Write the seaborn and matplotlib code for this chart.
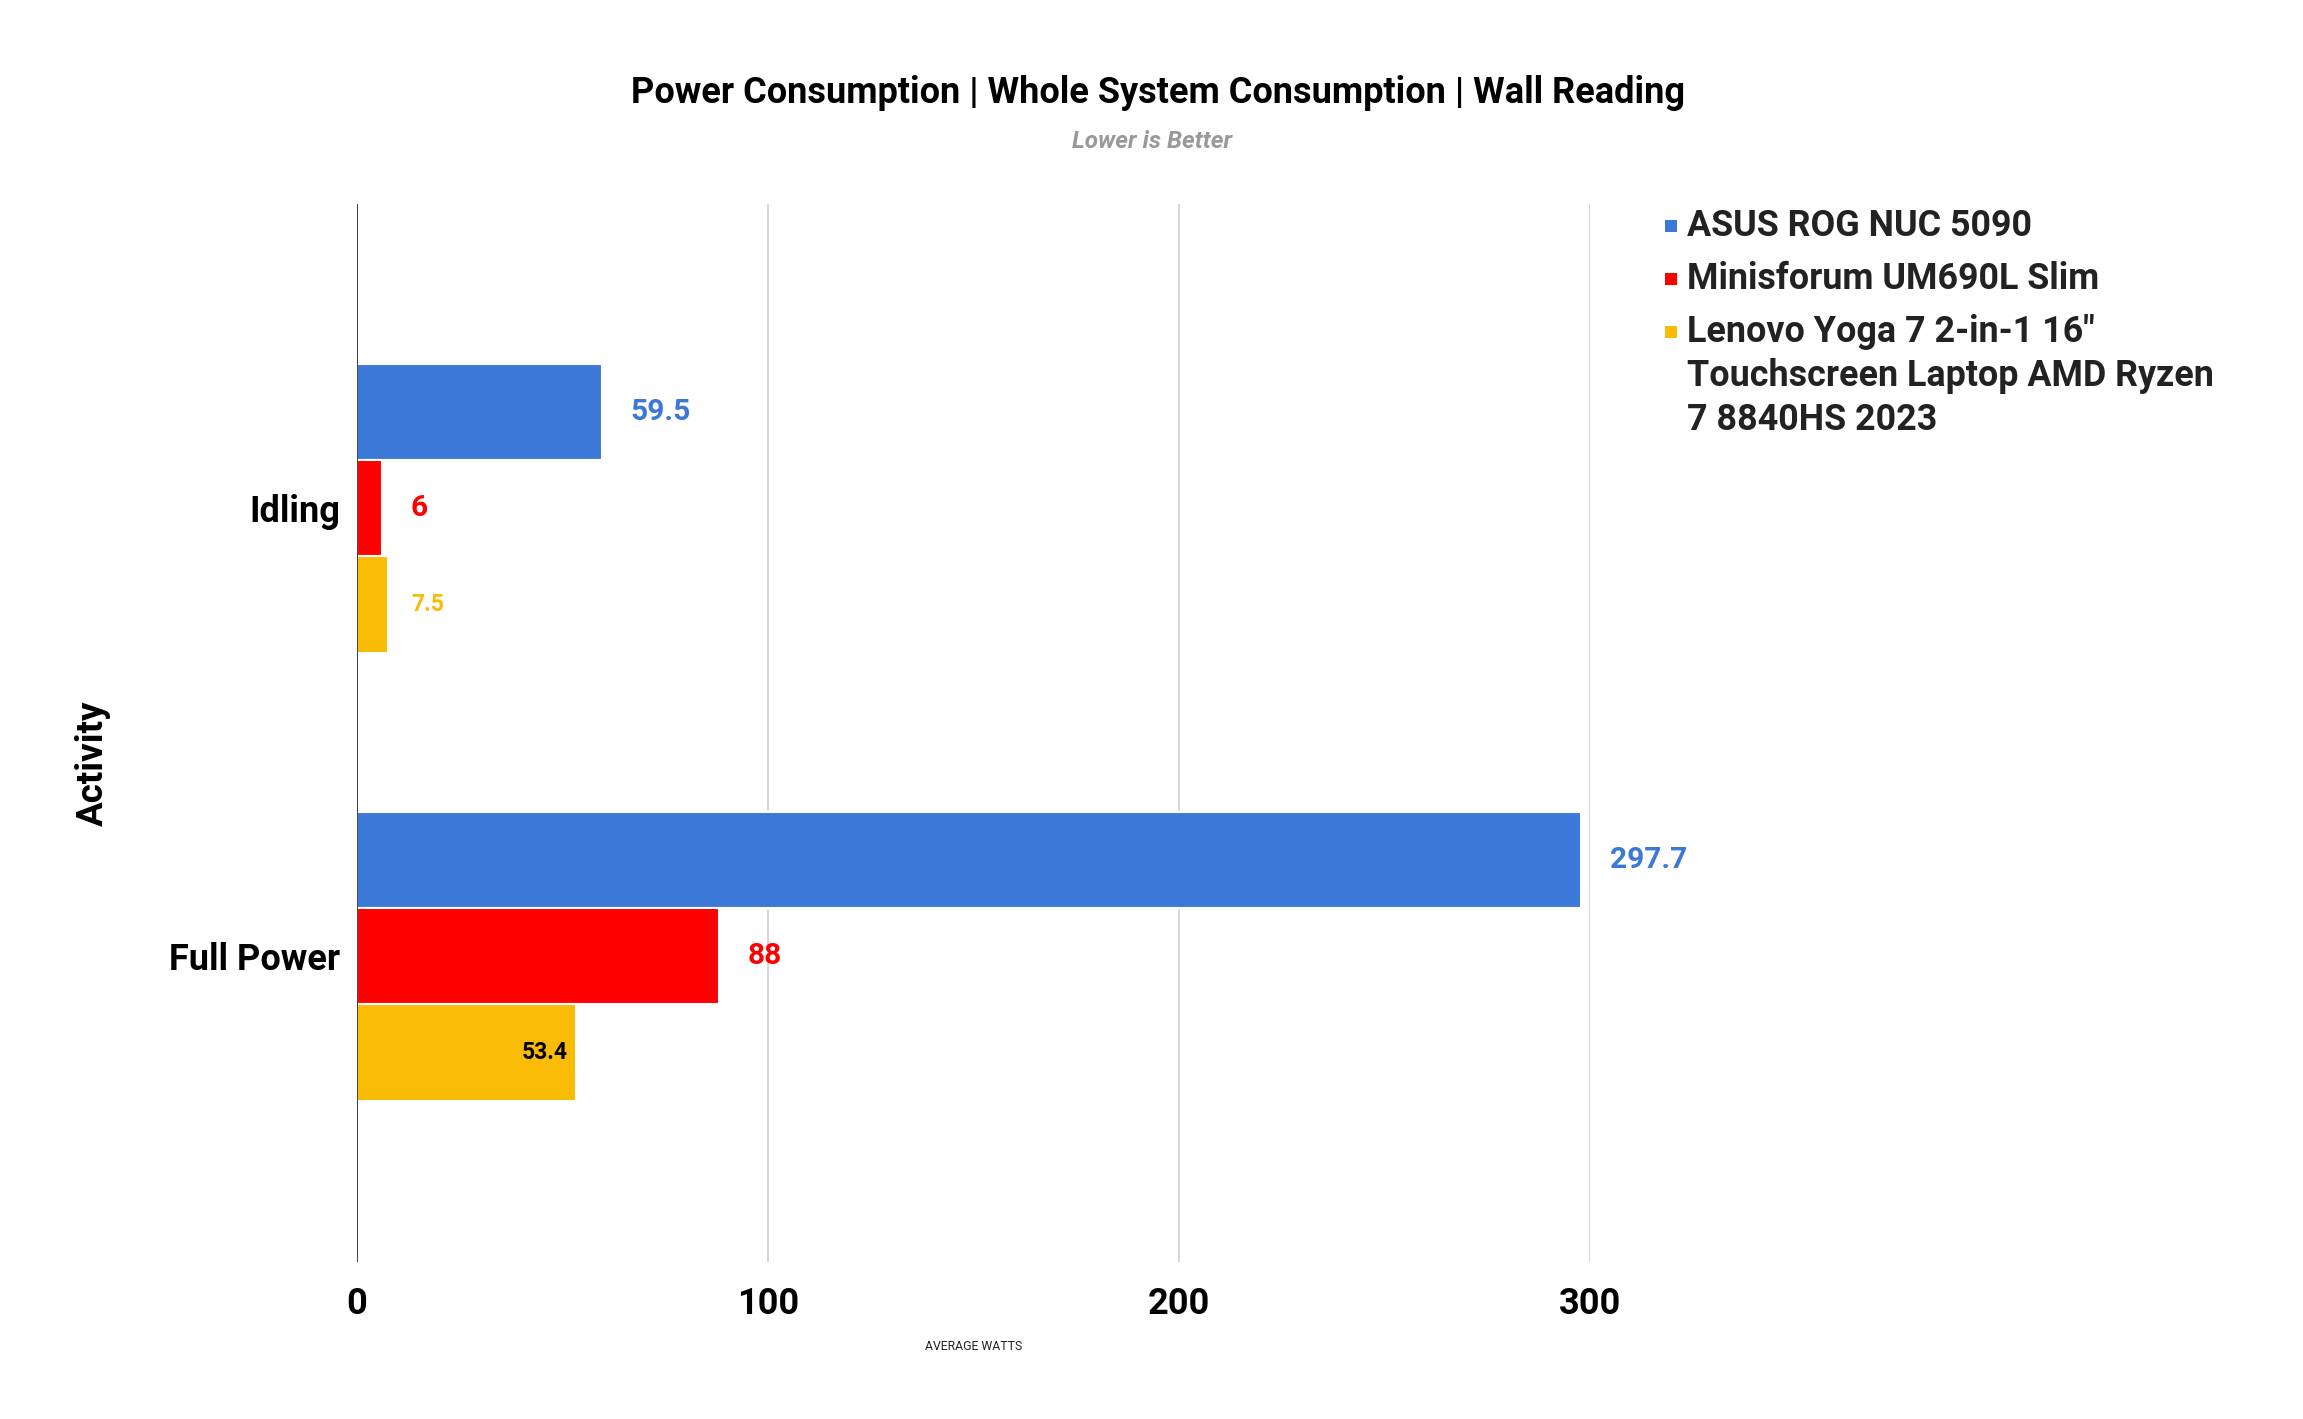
import matplotlib
matplotlib.use("Agg")
import matplotlib.pyplot as plt
import seaborn as sns
import pandas as pd
from matplotlib.patches import Rectangle

# ---------------- data ----------------
activities = ["Idling", "Full Power"]
systems = ["ASUS ROG NUC 5090", "Minisforum UM690L Slim",
           'Lenovo Yoga 7 2-in-1 16" Touchscreen Laptop AMD Ryzen 7 8840HS 2023']
legend_lines = [["ASUS ROG NUC 5090"], ["Minisforum UM690L Slim"],
                ['Lenovo Yoga 7 2-in-1 16"', "Touchscreen Laptop AMD Ryzen", "7 8840HS 2023"]]
asus_watts = [59.5, 297.7]
minis_watts = [6, 88]
lenovo_watts = [7.5, 53.4]
x_ticks = [0, 100, 200, 300]

title = "Power Consumption | Whole System Consumption | Wall Reading"
subtitle = "Lower is Better"
x_label = "AVERAGE WATTS"
y_label = "Activity"

# ---------------- style ----------------
colors = ["#3c78d8", "#ff0000", "#f9bb03"]
label_colors = [["#3c78d8", "#3c78d8"], ["#ff0000", "#ff0000"], ["#f9bb03", "#000000"]]
label_sizes = [[21.5, 21.5], [21.5, 21.5], [16.5, 16.5]]
label_inside = [[False, False], [False, False], [False, True]]
label_offset = [[21, 21], [21, 21], [17, -6]]

rows = []
for sys_name, vals in zip(systems, [asus_watts, minis_watts, lenovo_watts]):
    for act, v in zip(activities, vals):
        rows.append({"Activity": act, "System": sys_name, "Watts": v})
df = pd.DataFrame(rows)

sns.set_theme(style="white")
plt.rcParams["font.family"] = ["Roboto", "DejaVu Sans"]

W, H = 2303, 1419
fig = plt.figure(figsize=(W / 100, H / 100), dpi=100)
ax_l, ax_r, ax_t, ax_b = 357, 1590, 204, 1262
ax = fig.add_axes([ax_l / W, 1 - ax_b / H, (ax_r - ax_l) / W, (ax_b - ax_t) / H])

sns.barplot(data=df, y="Activity", x="Watts", hue="System", order=activities,
            hue_order=systems, palette=colors, width=0.645, orient="h", ax=ax,
            legend=False, edgecolor="white", linewidth=1.5, saturation=1)

ax.set_xlim(0, 300)
ax.set_ylim(1.683, -0.679)
for s in ax.spines.values():
    s.set_visible(False)
ax.set_axisbelow(True)
ax.grid(axis="x", color="#cccccc", lw=1.1)
ax.grid(axis="y", visible=False)
ax.axvline(0, color="#333333", lw=1.3, zorder=3)

ax.set_xticks(x_ticks)
ax.set_xticklabels([str(t) for t in x_ticks], fontsize=26, fontweight="bold", color="#000000")
ax.tick_params(axis="x", length=0, pad=17)
ax.tick_params(axis="y", length=0, pad=12)
for lbl in ax.get_yticklabels():
    lbl.set_fontsize(26)
    lbl.set_fontweight("bold")
    lbl.set_color("#000000")
ax.set_xlabel("")
ax.set_ylabel("")

# value labels
for si, cont in enumerate(ax.containers):
    for ci, bar in enumerate(cont):
        v = bar.get_width()
        yc = bar.get_y() + bar.get_height() / 2
        txt = f"{v:g}"
        ax.annotate(txt, (v, yc), xytext=(label_offset[si][ci], 0),
                    textcoords="offset points",
                    ha="right" if label_inside[si][ci] else "left", va="center",
                    fontsize=label_sizes[si][ci], fontweight="bold",
                    color=label_colors[si][ci], annotation_clip=False)

# titles and axis labels
fig.text(1158 / W, 1 - 93 / H, title, ha="center", va="center", fontsize=26,
         fontweight="bold", color="#000000")
fig.text(1152 / W, 1 - 142 / H, subtitle, ha="center", va="center", fontsize=17.5,
         fontweight="bold", style="italic", color="#999999")
fig.text(974 / W, 1 - 1346 / H, x_label, ha="center", va="center", fontsize=8.8,
         color="#222222")
fig.text(93 / W, 1 - 763 / H, y_label, ha="center", va="center", fontsize=26.5,
         fontweight="bold", rotation=90, color="#000000")

# legend
entry_y = [226, 279, 332]
line_step = 44
for i, lines in enumerate(legend_lines):
    y0 = entry_y[i]
    fig.patches.append(Rectangle(((1671 - 6) / W, 1 - (y0 + 6) / H), 12 / W, 12 / H,
                                 transform=fig.transFigure, facecolor=colors[i],
                                 edgecolor="none"))
    for j, line in enumerate(lines):
        fig.text(1687 / W, 1 - (y0 + j * line_step) / H, line, ha="left", va="center",
                 fontsize=25.8, fontweight="bold", color="#222222")

fig.savefig("out.png", dpi=100, facecolor="white")
